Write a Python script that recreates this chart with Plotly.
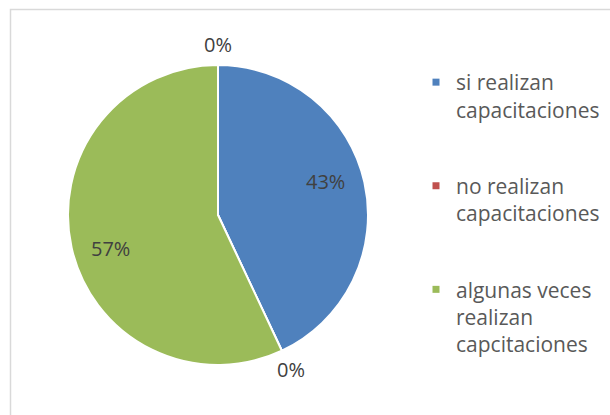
import math
import plotly.graph_objects as go

# Survey answers and their share (percent)
categories = ["si realizan capacitaciones", "no realizan capacitaciones",
              "algunas veces realizan capcitaciones", "sin respuesta"]
legend_names = ["si realizan<br>capacitaciones", "no realizan<br>capacitaciones",
                "algunas veces<br>realizan<br>capcitaciones"]
values = [43, 0, 57, 0]
colors = ["#4F81BD", "#C0504D", "#9BBB59", "#8064A2"]

W, H = 610, 415
CX, CY, R = 218, 215, 150  # pie centre and radius in pixels

fig = go.Figure()
fig.add_trace(go.Pie(
    labels=categories, values=values, sort=False, direction="clockwise",
    rotation=0, marker=dict(colors=colors, line=dict(color="white", width=2)),
    textinfo="none", hoverinfo="label+percent", showlegend=False,
    domain=dict(x=[(CX - R) / W, (CX + R) / W], y=[1 - (CY + R) / H, 1 - (CY - R) / H]),
))

# Legend entries (one group per answer so the groups can be spaced apart)
for i, (name, col) in enumerate(zip(legend_names, colors)):
    fig.add_trace(go.Scatter(
        x=[None], y=[None], mode="markers", name=name, legendgroup=f"g{i}",
        marker=dict(symbol="square", size=7, color=col), hoverinfo="skip",
    ))

# Percentage labels placed from the slice angles
total = sum(values)
annotations = []
cum = 0
for v in values:
    mid = (cum + v / 2) / total
    cum += v
    if v > 0:
        theta = 2 * math.pi * mid - math.radians(4.5)
        r = 0.75 * R
    else:
        theta = 2 * math.pi * mid
        r = 1.14 * R
    px = CX + r * math.sin(theta)
    py = CY - r * math.cos(theta)
    annotations.append(dict(
        x=px / W, y=1 - py / H, xref="paper", yref="paper",
        text=f"{round(100 * v / total)}%", showarrow=False,
        font=dict(family="Open Sans", size=20, color="#404040"),
        xanchor="center", yanchor="middle",
    ))

fig.update_layout(
    width=W, height=H, margin=dict(l=0, r=0, t=0, b=0),
    paper_bgcolor="white", plot_bgcolor="white",
    xaxis=dict(visible=False), yaxis=dict(visible=False),
    annotations=annotations,
    legend=dict(
        x=(456 - 40) / W, xanchor="left", y=1 - 62 / H, yanchor="top",
        valign="top", tracegroupgap=46, bgcolor="rgba(0,0,0,0)",
        font=dict(family="Open Sans", size=21, color="#595959"),
    ),
    shapes=[dict(type="rect", xref="paper", yref="paper",
                 x0=10.5 / W, y0=-0.1, x1=1.1, y1=1 - 9.5 / H,
                 line=dict(color="#D9D9D9", width=1.5), layer="below")],
)

fig.write_html("out.html")
